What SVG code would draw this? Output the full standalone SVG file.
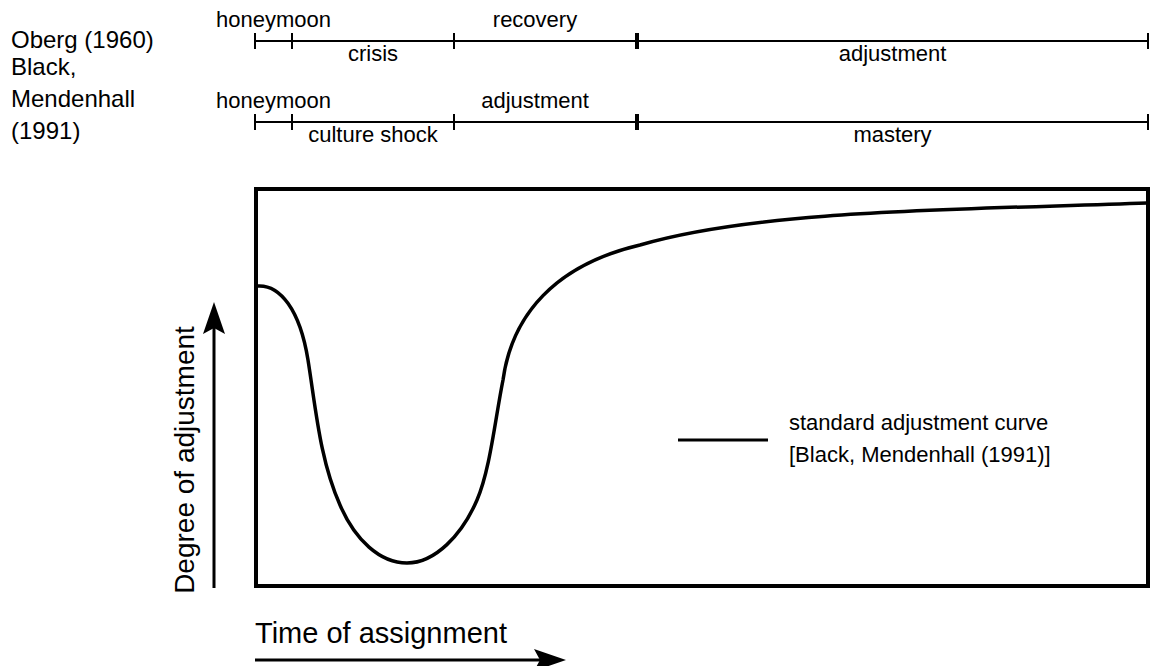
<svg xmlns="http://www.w3.org/2000/svg" width="1150" height="666" viewBox="0 0 1150 666">
<style>
text{font-family:"Liberation Sans",Arial,sans-serif;fill:#000}
.lab{font-size:24px}
.seg{font-size:22px;text-anchor:middle}
.tl{stroke:#000;stroke-width:2;fill:none}
.tk{stroke:#000;stroke-width:2}
.tkb{stroke:#000;stroke-width:4}
.ax{stroke:#000;stroke-width:3;fill:none}
</style>
<defs>
<marker id="ah" viewBox="0 0 32 22" refX="26" refY="11" markerWidth="32" markerHeight="22" markerUnits="userSpaceOnUse" orient="auto">
<path d="M0,0 L32,11 L0,22 L6,11 Z" fill="#000"/>
</marker>
</defs>
<rect width="1150" height="666" fill="#fff"/>
<g id="labels">
<text class="lab" x="11" y="48">Oberg (1960)</text>
<text class="lab" x="11" y="75">Black,</text>
<text class="lab" x="11" y="107">Mendenhall</text>
<text class="lab" x="11" y="139">(1991)</text>
</g>
<g id="timeline-oberg">
<line class="tl" x1="255" y1="41" x2="1148" y2="41"/>
<line class="tk" x1="255" y1="33" x2="255" y2="49"/>
<line class="tk" x1="292" y1="33" x2="292" y2="49"/>
<line class="tk" x1="454" y1="33" x2="454" y2="49"/>
<line class="tkb" x1="637" y1="33" x2="637" y2="49"/>
<line class="tk" x1="1148" y1="33" x2="1148" y2="49"/>
<text class="seg" x="273.5" y="27">honeymoon</text>
<text class="seg" x="373" y="61">crisis</text>
<text class="seg" x="535" y="27">recovery</text>
<text class="seg" x="892.5" y="61">adjustment</text>
</g>
<g id="timeline-black">
<line class="tl" x1="255" y1="122" x2="1148" y2="122"/>
<line class="tk" x1="255" y1="114" x2="255" y2="130"/>
<line class="tk" x1="292" y1="114" x2="292" y2="130"/>
<line class="tk" x1="454" y1="114" x2="454" y2="130"/>
<line class="tkb" x1="637" y1="114" x2="637" y2="130"/>
<line class="tk" x1="1148" y1="114" x2="1148" y2="130"/>
<text class="seg" x="273.5" y="108">honeymoon</text>
<text class="seg" x="373" y="142">culture shock</text>
<text class="seg" x="535" y="108">adjustment</text>
<text class="seg" x="892.5" y="142">mastery</text>
</g>
<g id="chart">
<rect x="256" y="189" width="892" height="397" fill="none" stroke="#000" stroke-width="4"/>
<path id="curve" d="M257 286 C280 284 300 310 308 360 C316 410 320 460 340 505 C355 540 380 563 407 563 C435 563 462 535 477 500 C490 470 495 420 503 380 C512 315 555 265 640 245 C760 210 950 210 1147 203" fill="none" stroke="#000" stroke-width="3.5"/>
</g>
<g id="legend">
<line x1="678" y1="440" x2="768" y2="440" stroke="#000" stroke-width="3"/>
<text x="789" y="430" style="font-size:22px">standard adjustment curve</text>
<text x="789" y="462" style="font-size:22px">[Black, Mendenhall (1991)]</text>
</g>
<g id="axes">
<line class="ax" x1="214" y1="588" x2="214" y2="308" marker-end="url(#ah)"/>
<line class="ax" x1="255" y1="660" x2="560" y2="660" marker-end="url(#ah)"/>
<text x="194" y="460" transform="rotate(-90 194 460)" text-anchor="middle" style="font-size:28px">Degree of adjustment</text>
<text x="255" y="643" style="font-size:29px">Time of assignment</text>
</g>
</svg>
